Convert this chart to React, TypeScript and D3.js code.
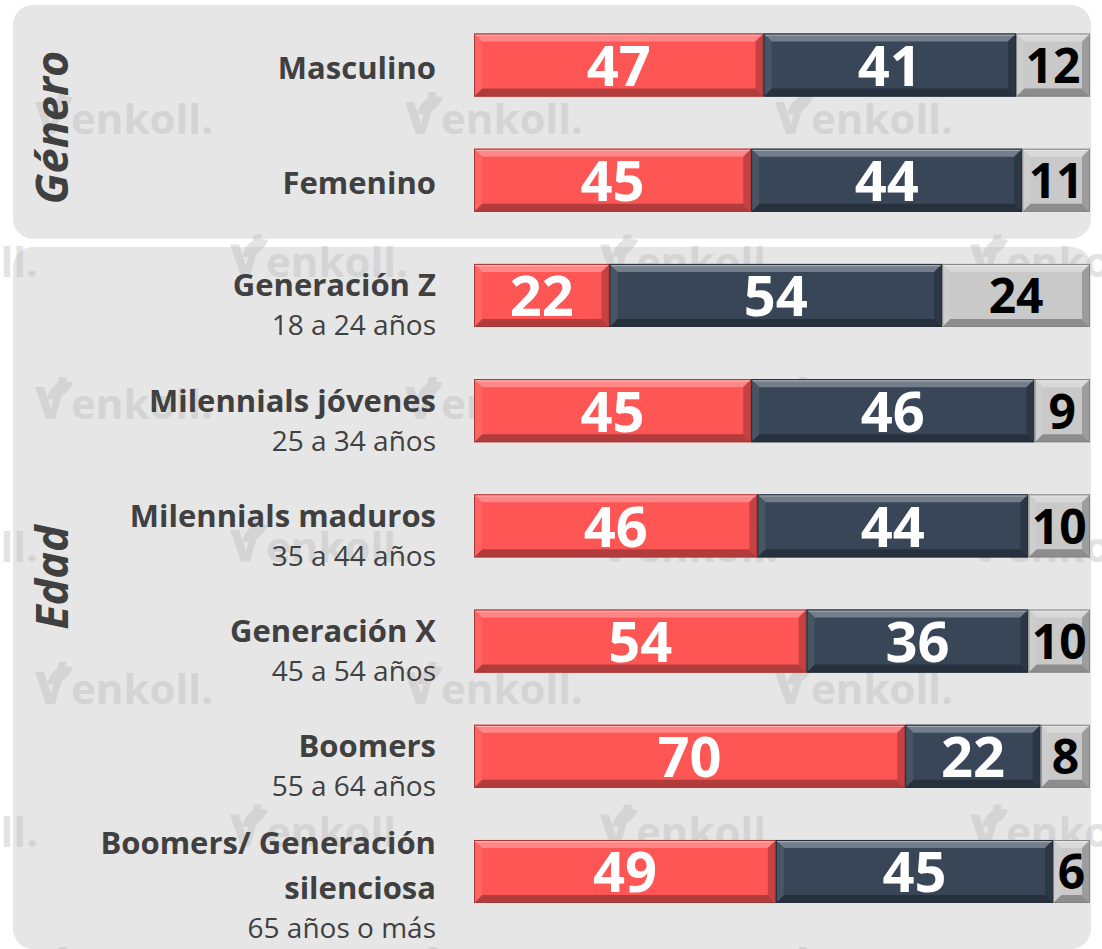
import React, { useMemo } from "react";
import * as d3 from "d3";

// ---------- DATA ----------
const categories = [
  "Masculino",
  "Femenino",
  "Generación Z",
  "Milennials jóvenes",
  "Milennials maduros",
  "Generación X",
  "Boomers",
  "Boomers/ Generación silenciosa",
];
const subtitles = ["", "", "18 a 24 años", "25 a 34 años", "35 a 44 años", "45 a 54 años", "55 a 64 años", "65 años o más"];
const groupNames = ["Género", "Edad"];
const groupIndex = [0, 0, 1, 1, 1, 1, 1, 1];
const redValues = [47, 45, 22, 45, 46, 54, 70, 49];
const darkValues = [41, 44, 54, 46, 44, 36, 22, 45];
const greyValues = [12, 11, 24, 9, 10, 10, 8, 6];

// ---------- STYLE ----------
const W = 1102;
const H = 949;
const FONT = "'Open Sans', 'Noto Sans', sans-serif";
const TEXT = "#404040";
const PANEL = "#e6e6e6";
const segColors = ["#fe5555", "#384658", "#c9c9c9"];
const segText = ["#ffffff", "#ffffff", "#000000"];
const groupLabelShift = [5, -6];

function measure(text: string, font: string): number {
  const c = document.createElement("canvas").getContext("2d");
  if (!c) return text.length * 16;
  c.font = font;
  return c.measureText(text).width;
}

function wrap(text: string, font: string, maxW: number): string[] {
  const words = text.split(" ");
  const lines: string[] = [];
  let cur = "";
  for (const w of words) {
    const t = cur ? cur + " " + w : w;
    if (cur && measure(t, font) > maxW) {
      lines.push(cur);
      cur = w;
    } else cur = t;
  }
  if (cur) lines.push(cur);
  return lines;
}

function Segment({ x0, x1, y0, h, color, value, textColor }: any) {
  const y1 = y0 + h;
  const b = Math.min(8, (x1 - x0) / 2);
  const light = d3.interpolateRgb(color, "#ffffff")(0.3);
  const lightSide = d3.interpolateRgb(color, "#ffffff")(0.08);
  const dark = d3.interpolateRgb(color, "#000000")(0.3);
  const darkSide = d3.interpolateRgb(color, "#000000")(0.22);
  const outline = d3.interpolateRgb(color, "#000000")(0.35);
  const cx = (x0 + x1) / 2;
  const isDarkText = textColor === "#000000";
  return (
    <g>
      <rect x={x0} y={y0} width={x1 - x0} height={h} fill={color} />
      <polygon points={`${x0},${y0} ${x1},${y0} ${x1 - b},${y0 + b} ${x0 + b},${y0 + b}`} fill={light} />
      <polygon points={`${x0},${y1} ${x1},${y1} ${x1 - b},${y1 - b} ${x0 + b},${y1 - b}`} fill={dark} />
      <polygon points={`${x0},${y0} ${x0 + b},${y0 + b} ${x0 + b},${y1 - b} ${x0},${y1}`} fill={lightSide} />
      <polygon points={`${x1},${y0} ${x1 - b},${y0 + b} ${x1 - b},${y1 - b} ${x1},${y1}`} fill={darkSide} />
      <line x1={x0 + 1} x2={x1 - 1} y1={y0 + 1.5} y2={y0 + 1.5} stroke="#ffffff" strokeOpacity={0.35} strokeWidth={1.5} />
      <rect x={x0 + 0.5} y={y0 + 0.5} width={x1 - x0 - 1} height={h - 1} fill="none" stroke={outline} strokeWidth={1} />
      <text
        x={cx}
        y={y0 + h / 2 + (isDarkText ? 18 : 21)}
        textAnchor="middle"
        fontFamily={FONT}
        fontWeight={700}
        fontSize={isDarkText ? 48 : 56}
        fill={textColor}
      >
        {value}
      </text>
    </g>
  );
}

function Watermark({ x, y }: { x: number; y: number }) {
  return (
    <g transform={`translate(${x},${y})`} fill="#bdbdbd" opacity={0.42}>
      <path d="M0,-16 L9,-16 L16,6 L24,-26 L32,-26 L20,16 L11,16 Z" />
      <path d="M12,-4 C16,-20 28,-24 38,-20 C32,-8 22,-2 12,-4 Z" />
      <text x={36} y={16} fontFamily={FONT} fontWeight={700} fontSize={42}>
        enkoll.
      </text>
    </g>
  );
}

export default function App() {
  const x = d3.scaleLinear().domain([0, 100]).range([474, 1090]);
  const y = d3.scaleBand<string>().domain(categories).range([33.5, 903]).paddingInner(0.453).paddingOuter(0);
  const bw = y.bandwidth();

  const nameFont = `700 31px ${FONT}`;
  const labels = useMemo(() => categories.map((c) => wrap(c, nameFont, 360)), []);

  const panels = groupNames.map((g, gi) => {
    const rows = categories.filter((_, i) => groupIndex[i] === gi);
    const first = y(rows[0])!;
    const last = y(rows[rows.length - 1])!;
    const top = gi === 0 ? first - 28.5 : first - 17;
    const bottom = gi === 0 ? last + bw + 27 : last + bw + 46;
    const mid = (first + last + bw) / 2 + groupLabelShift[gi];
    return { g, top, bottom, mid };
  });

  const wm: { x: number; y: number }[] = [];
  for (let r = 0; r < 7; r++) {
    const yy = 118 + r * 142.5;
    const off = r % 2 === 0 ? 35 : -140;
    for (let k = 0; k < 4; k++) wm.push({ x: off + k * 370, y: yy });
  }

  return (
    <svg width={W} height={H} style={{ position: "absolute", left: 0, top: 0, background: "#ffffff" }}>
      <rect x={0} y={0} width={W} height={H} fill="#ffffff" />
      {panels.map((p) => (
        <rect key={p.g} x={13} y={p.top} width={1078} height={p.bottom - p.top} rx={20} ry={20} fill={PANEL} />
      ))}
      {wm.map((w, i) => (
        <Watermark key={i} x={w.x} y={w.y} />
      ))}
      {panels.map((p) => (
        <text
          key={p.g + "t"}
          transform={`translate(68,${p.mid}) rotate(-90)`}
          textAnchor="middle"
          fontFamily={FONT}
          fontWeight={700}
          fontStyle="italic"
          fontSize={45}
          fill={TEXT}
        >
          {p.g}
        </text>
      ))}
      {categories.map((c, i) => {
        const cy = y(c)! + bw / 2;
        const lines = labels[i];
        const sub = subtitles[i];
        let baselines: number[];
        let subBase = 0;
        if (!sub) {
          baselines = lines.map((_, k) => cy + 14 + (k - (lines.length - 1) / 2) * 45);
        } else {
          const n = lines.length;
          baselines = lines.map((_, k) => cy + 1 - (n - 1) * 18 + k * 45);
          subBase = baselines[n - 1] + 39;
        }
        const vals = [redValues[i], darkValues[i], greyValues[i]];
        let acc = 0;
        return (
          <g key={c}>
            {lines.map((l, k) => (
              <text key={k} x={436} y={baselines[k]} textAnchor="end" fontFamily={FONT} fontWeight={700} fontSize={31} fill={TEXT}>
                {l}
              </text>
            ))}
            {sub && (
              <text x={436} y={subBase} textAnchor="end" fontFamily={FONT} fontWeight={400} fontSize={28} fill={TEXT}>
                {sub}
              </text>
            )}
            {vals.map((v, s) => {
              const x0 = x(acc);
              acc += v;
              const x1 = x(acc);
              return (
                <Segment key={s} x0={x0} x1={x1} y0={y(c)!} h={bw} color={segColors[s]} value={v} textColor={segText[s]} />
              );
            })}
          </g>
        );
      })}
    </svg>
  );
}
